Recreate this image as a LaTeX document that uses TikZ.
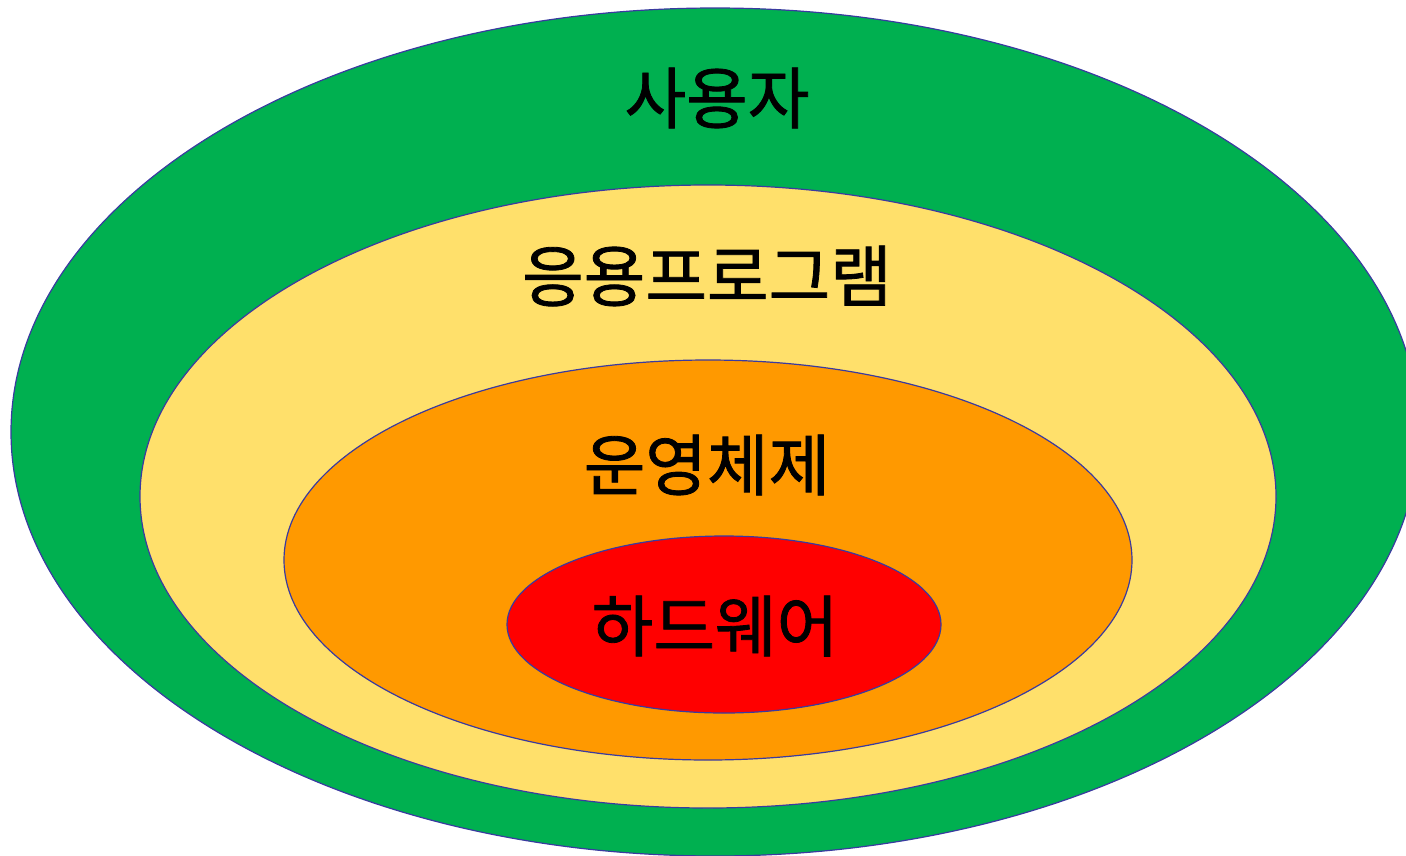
\documentclass[tikz,border=0pt]{standalone}
\usepackage{fontspec}
\newfontfamily\kr[FakeBold=1.2]{Noto Sans CJK KR}
\definecolor{cgreen}{HTML}{00B050}
\definecolor{cyellow}{HTML}{FFE06B}
\definecolor{corange}{HTML}{FF9900}
\definecolor{cred}{HTML}{FF0000}
\definecolor{cline}{HTML}{3A3AA0}
\tikzset{layer/.style={draw=cline, line width=1.2pt},
 lbl/.style={font=\kr\fontsize{67}{70}\selectfont, text=black, inner sep=0pt}}
\begin{document}
\begin{tikzpicture}[x=1pt,y=-1pt]
\useasboundingbox (0,0) rectangle (1406,855);
\clip (0,0) rectangle (1406,855);
\path[layer, fill=cgreen] (715,432) ellipse [x radius=704, y radius=424];
\path[layer, fill=cyellow] (708,496.5) ellipse [x radius=568, y radius=311.5];
\path[layer, fill=corange] (708,560) ellipse [x radius=424, y radius=200];
\path[layer, fill=cred] (724,624.5) ellipse [x radius=217, y radius=88.5];
\node[lbl] (user) at (717,98) {사용자};
\node[lbl] (app) at (707,276) {응용프로그램};
\node[lbl] (os) at (707,465) {운영체제};
\node[lbl] (hw) at (715,626) {하드웨어};
\end{tikzpicture}
\end{document}
